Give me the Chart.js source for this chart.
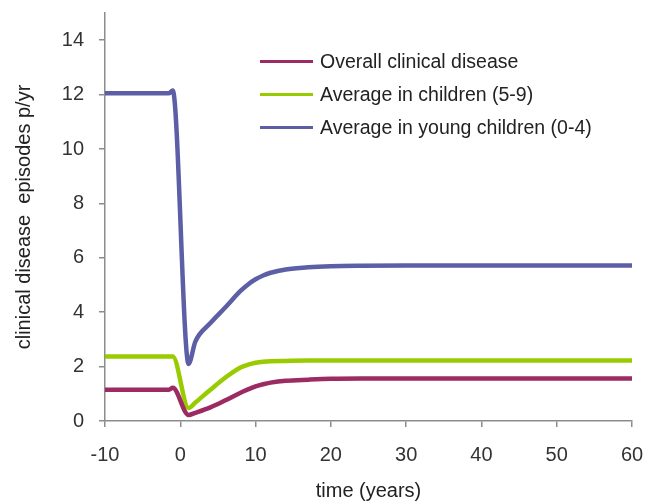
<!DOCTYPE html>
<html lang="en">

<head>
    <meta charset="UTF-8">
    <title>Clinical disease</title>
    <script src="https://cdn.jsdelivr.net/npm/chart.js"></script>
    <style>
        body { margin: 0; background: #fff; }
        .wrap { position: relative; width: 654px; height: 501px; }
        .legenda { position: absolute; left: 260px; top: 45px; font-family: "Liberation Sans", Arial, sans-serif; font-size: 19.5px; color: #222; }
        .item { height: 33px; display: flex; align-items: center; }
        .item .linha { width: 53px; height: 2.5px; margin-right: 7px; }
    </style>
</head>

<body>
    <div class="wrap">
        <canvas id="grafico" width="654" height="501"></canvas>
        <div class="legenda" id="legenda"></div>
    </div>
<script>
    // time in years, shared by every series
    var tempo = [-10, -1.5, -1, 1.1, 2, 4, 6, 8, 9, 10, 11, 12, 14, 17, 20, 24, 30, 40, 60]

    var overall = [1.15, 1.15, 1.22, 0.22, 0.3, 0.5, 0.76, 1.04, 1.16, 1.27, 1.35, 1.41, 1.48, 1.52, 1.55, 1.56, 1.56, 1.56, 1.56]
    var criancas = [2.37, 2.37, 2.37, 0.48, 0.68, 1.15, 1.6, 1.97, 2.07, 2.14, 2.18, 2.2, 2.21, 2.22, 2.22, 2.22, 2.22, 2.22, 2.22]
    var jovens = [12.05, 12.05, 12.15, 2.1, 2.92, 3.6, 4.18, 4.78, 5.02, 5.21, 5.35, 5.45, 5.57, 5.65, 5.69, 5.71, 5.72, 5.72, 5.72]

    var nomes = ['Overall clinical disease', 'Average in children (5-9)', 'Average in young children (0-4)']
    var cores = ['#9b2b62', '#99cc00', '#5c5fa6']
    var series = [overall, criancas, jovens]

    function pontos(valores) {
        return tempo.map(function (t, i) { return { x: t, y: valores[i] } })
    }

    var datasets = []
    for (var i = 0; i < series.length; i++) {
        datasets.push({
            label: nomes[i],
            data: pontos(series[i]),
            borderColor: cores[i],
            borderWidth: 4.5,
            pointRadius: 0,
            cubicInterpolationMode: 'monotone',
            borderCapStyle: 'round',
            borderJoinStyle: 'round'
        })
    }

    // legenda em html, dentro da area do grafico
    var leg = document.getElementById('legenda')
    for (var j = 0; j < nomes.length; j++) {
        leg.innerHTML += '<div class="item"><span class="linha" style="background:' + cores[j] + '"></span>' + nomes[j] + '</div>'
    }

    var fonte = "'Liberation Sans', Arial, sans-serif"
    var cinza = '#8c8c8c'

    new Chart(document.getElementById('grafico'), {
        type: 'line',
        data: { datasets: datasets },
        options: {
            responsive: false,
            animation: false,
            layout: { padding: { left: 0, right: 22, top: 13, bottom: 0 } },
            plugins: { legend: { display: false }, tooltip: { enabled: false } },
            scales: {
                x: {
                    type: 'linear',
                    min: -10,
                    max: 60,
                    ticks: { stepSize: 10, color: '#333', font: { family: fonte, size: 20 }, padding: 16 },
                    grid: { drawOnChartArea: false, drawTicks: true, tickLength: 6, color: cinza, lineWidth: 1.5 },
                    border: { color: cinza, width: 1.5 },
                    title: { display: true, text: 'time (years)', color: '#222', font: { family: fonte, size: 20 }, padding: { top: 0, bottom: -2 } },
                    afterFit: function (axis) {
                        axis.height = 80
                        axis.paddingLeft = 0
                        axis.paddingRight = 0
                    }
                },
                y: {
                    min: 0,
                    max: 15,
                    ticks: { stepSize: 2, color: '#333', font: { family: fonte, size: 20 }, padding: 15 },
                    afterBuildTicks: function (axis) {
                        axis.ticks = axis.ticks.filter(function (t) { return t.value % 2 === 0 })
                    },
                    grid: { drawOnChartArea: false, drawTicks: true, tickLength: 6, color: cinza, lineWidth: 1.5 },
                    border: { color: cinza, width: 1.5 },
                    title: { display: true, text: 'clinical disease  episodes p/yr', color: '#222', font: { family: fonte, size: 20 }, padding: { top: 12, bottom: 0 } },
                    afterFit: function (axis) {
                        axis.width = 105
                        axis.paddingTop = 0
                        axis.paddingBottom = 0
                    }
                }
            }
        }
    })
</script>
</body>

</html>
